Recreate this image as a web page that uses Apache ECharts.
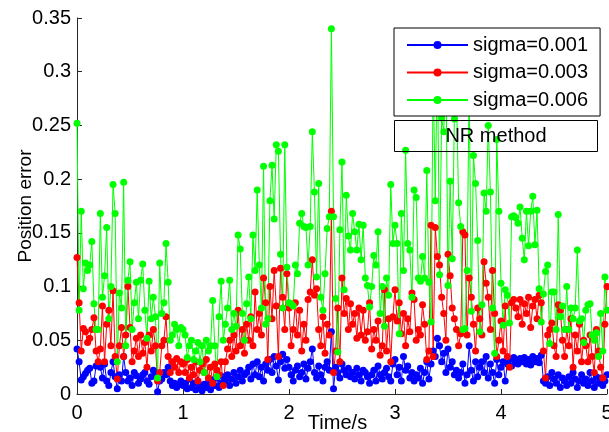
<!DOCTYPE html>
<html>
<head>
<meta charset="utf-8">
<script src="https://cdn.jsdelivr.net/npm/echarts@6/dist/echarts.min.js"></script>
<style>
html,body{margin:0;padding:0;background:#fff;}
#chart{width:609px;height:432px;}
</style>
</head>
<body>
<div id="chart"></div>
<script>
// time step 0.02 s, t = 0 ... 5
var timeStep = 0.02;
var seriesNames = ['sigma=0.001', 'sigma=0.003', 'sigma=0.006'];
var xTicks = [0, 1, 2, 3, 4, 5];
var yTicks = [0, 0.05, 0.1, 0.15, 0.2, 0.25, 0.3, 0.35];

var sigma001 = [
  0.042, 0.03, 0.013, 0.016, 0.019, 0.022, 0.024, 0.01, 0.012, 0.026,
  0.027, 0.025, 0.015, 0.028, 0.012, 0.008, 0.02, 0.03, 0.016, 0.005,
  0.018, 0.012, 0.035, 0.02, 0.012, 0.015, 0.008, 0.02, 0.017, 0.01,
  0.014, 0.018, 0.02, 0.012, 0.009, 0.016, 0.022, 0.018, 0.002, 0.012,
  0.014, 0.02, 0.018, 0.025, 0.012, 0.008, 0.01, 0.006, 0.009, 0.012,
  0.008, 0.01, 0.005, 0.014, 0.006, 0.01, 0.004, 0.012, 0.008, 0.003,
  0.009, 0.006, 0.011, 0.004, 0.013, 0.008, 0.015, 0.006, 0.01, 0.016,
  0.012, 0.018, 0.008, 0.014, 0.02, 0.01, 0.016, 0.022, 0.012, 0.018,
  0.02, 0.025, 0.014, 0.028, 0.018, 0.03, 0.016, 0.025, 0.012, 0.028,
  0.022, 0.032, 0.02, 0.035, 0.026, 0.013, 0.03, 0.037, 0.024, 0.032,
  0.025, 0.018, 0.012, 0.022, 0.026, 0.016, 0.02, 0.028, 0.014, 0.024,
  0.03, 0.042, 0.02, 0.015, 0.026, 0.018, 0.012, 0.025, 0.03, 0.022,
  0.058, 0.005, 0.025, 0.02, 0.015, 0.028, 0.022, 0.018, 0.024, 0.016,
  0.02, 0.014, 0.024, 0.018, 0.012, 0.022, 0.02, 0.016, 0.01, 0.018,
  0.022, 0.012, 0.026, 0.018, 0.014, 0.02, 0.024, 0.016, 0.012, 0.028,
  0.032, 0.018, 0.025, 0.012, 0.035, 0.022, 0.026, 0.015, 0.02, 0.012,
  0.018, 0.015, 0.024, 0.01, 0.02, 0.03, 0.014, 0.028, 0.04, 0.035,
  0.052, 0.045, 0.03, 0.038, 0.02, 0.042, 0.025, 0.03, 0.018, 0.022,
  0.015, 0.02, 0.028, 0.01, 0.018, 0.045, 0.022, 0.012, 0.03, 0.016,
  0.025, 0.03, 0.02, 0.035, 0.015, 0.028, 0.02, 0.01, 0.032, 0.018,
  0.025, 0.03, 0.012, 0.028, 0.032, 0.026, 0.034, 0.03, 0.028, 0.033,
  0.03, 0.034, 0.028, 0.032, 0.027, 0.035, 0.03, 0.033, 0.029, 0.036,
  0.012, 0.01, 0.016, 0.008, 0.02, 0.014, 0.01, 0.018, 0.006, 0.015,
  0.012, 0.008, 0.016, 0.01, 0.02, 0.014, 0.006, 0.012, 0.018, 0.01,
  0.014, 0.008, 0.02, 0.012, 0.006, 0.016, 0.01, 0.015, 0.008, 0.012, 0.018
];

var sigma003 = [
  0.127, 0.085, 0.04, 0.061, 0.058, 0.048, 0.052, 0.06, 0.071, 0.04,
  0.03, 0.042, 0.082, 0.03, 0.065, 0.078, 0.045, 0.096, 0.035, 0.014,
  0.045, 0.062, 0.035, 0.055, 0.1, 0.062, 0.03, 0.04, 0.052, 0.035,
  0.055, 0.038, 0.048, 0.025, 0.055, 0.04, 0.06, 0.045, 0.012, 0.02,
  0.045, 0.05, 0.072, 0.035, 0.02, 0.03, 0.025, 0.033, 0.02, 0.03,
  0.028, 0.02, 0.032, 0.015, 0.025, 0.018, 0.03, 0.012, 0.022, 0.028,
  0.02, 0.032, 0.015, 0.025, 0.01, 0.028, 0.022, 0.018, 0.03, 0.008,
  0.03, 0.042, 0.05, 0.035, 0.055, 0.04, 0.078, 0.045, 0.06, 0.038,
  0.065, 0.05, 0.072, 0.045, 0.095, 0.06, 0.075, 0.055, 0.108, 0.085,
  0.032, 0.1, 0.07, 0.115, 0.082, 0.035, 0.117, 0.09, 0.06, 0.112,
  0.08, 0.045, 0.06, 0.085, 0.055, 0.078, 0.04, 0.065, 0.05, 0.088,
  0.095, 0.125, 0.092, 0.098, 0.06, 0.045, 0.072, 0.038, 0.065, 0.055,
  0.17, 0.02, 0.04, 0.08, 0.03, 0.108, 0.075, 0.089, 0.06, 0.084,
  0.065, 0.075, 0.052, 0.08, 0.055, 0.078, 0.05, 0.058, 0.085, 0.042,
  0.06, 0.05, 0.068, 0.036, 0.045, 0.097, 0.04, 0.07, 0.03, 0.072,
  0.097, 0.068, 0.085, 0.056, 0.075, 0.045, 0.07, 0.058, 0.094, 0.088,
  0.05, 0.06, 0.055, 0.083, 0.065, 0.032, 0.04, 0.157, 0.035, 0.155,
  0.128, 0.12, 0.09, 0.075, 0.05, 0.13, 0.11, 0.08, 0.07, 0.06,
  0.045, 0.056, 0.151, 0.148, 0.055, 0.108, 0.09, 0.065, 0.04, 0.08,
  0.07, 0.055, 0.123, 0.103, 0.09, 0.06, 0.115, 0.075, 0.035, 0.05,
  0.068, 0.04, 0.082, 0.035, 0.025, 0.085, 0.088, 0.08, 0.072, 0.088,
  0.065, 0.084, 0.075, 0.09, 0.062, 0.082, 0.088, 0.07, 0.092, 0.085,
  0.04, 0.015, 0.055, 0.06, 0.066, 0.045, 0.035, 0.083, 0.078, 0.05,
  0.035, 0.06, 0.045, 0.07, 0.025, 0.055, 0.04, 0.065, 0.03, 0.05,
  0.045, 0.03, 0.055, 0.035, 0.02, 0.06, 0.04, 0.025, 0.015, 0.065, 0.1
];

var sigma006 = [
  0.252, 0.078, 0.17, 0.098, 0.122, 0.115, 0.12, 0.142, 0.084, 0.06,
  0.06, 0.168, 0.09, 0.11, 0.155, 0.07, 0.1, 0.195, 0.168, 0.03,
  0.094, 0.08, 0.197, 0.045, 0.106, 0.123, 0.06, 0.085, 0.104, 0.07,
  0.106, 0.121, 0.078, 0.052, 0.105, 0.07, 0.09, 0.072, 0.015, 0.122,
  0.075, 0.085, 0.14, 0.104, 0.05, 0.055, 0.065, 0.06, 0.045, 0.062,
  0.06, 0.055, 0.034, 0.045, 0.05, 0.032, 0.04, 0.048, 0.03, 0.045,
  0.02, 0.05, 0.04, 0.045, 0.087, 0.045, 0.016, 0.072, 0.105, 0.05,
  0.065, 0.08, 0.106, 0.06, 0.075, 0.063, 0.148, 0.135, 0.075, 0.05,
  0.084, 0.109, 0.07, 0.148, 0.115, 0.19, 0.12, 0.08, 0.212, 0.065,
  0.07, 0.18, 0.213, 0.163, 0.232, 0.226, 0.13, 0.08, 0.232, 0.118,
  0.085, 0.084, 0.082, 0.12, 0.112, 0.159, 0.168, 0.156, 0.155, 0.12,
  0.156, 0.244, 0.188, 0.109, 0.196, 0.09, 0.078, 0.112, 0.154, 0.165,
  0.34, 0.165, 0.089, 0.039, 0.153, 0.216, 0.097, 0.185, 0.147, 0.134,
  0.168, 0.151, 0.134, 0.158, 0.125, 0.157, 0.108, 0.101, 0.081, 0.1,
  0.129, 0.12, 0.151, 0.075, 0.1, 0.063, 0.108, 0.092, 0.195, 0.14,
  0.157, 0.14, 0.056, 0.168, 0.115, 0.227, 0.14, 0.134, 0.09, 0.19,
  0.183, 0.108, 0.105, 0.128, 0.108, 0.208, 0.104, 0.067, 0.3, 0.18,
  0.32, 0.111, 0.257, 0.244, 0.31, 0.101, 0.198, 0.126, 0.256, 0.28,
  0.178, 0.156, 0.06, 0.061, 0.115, 0.29, 0.077, 0.222, 0.196, 0.143,
  0.058, 0.083, 0.187, 0.17, 0.25, 0.188, 0.08, 0.038, 0.237, 0.17,
  0.103, 0.064, 0.097, 0.092, 0.066, 0.165, 0.166, 0.164, 0.159, 0.174,
  0.145, 0.125, 0.17, 0.138, 0.17, 0.184, 0.139, 0.171, 0.098, 0.067,
  0.093, 0.114, 0.12, 0.047, 0.095, 0.095, 0.06, 0.167, 0.072, 0.082,
  0.06, 0.1, 0.06, 0.08, 0.07, 0.08, 0.134, 0.068, 0.07, 0.048,
  0.078, 0.083, 0.084, 0.055, 0.05, 0.057, 0.035, 0.075, 0.04, 0.109, 0.078
];

var seriesValues = [sigma001, sigma003, sigma006];
var seriesColors = ['#0000ff', '#ff0000', '#00ff00'];

function toPairs(vals) {
  return vals.map(function (v, i) { return [+(i * timeStep).toFixed(2), v]; });
}

var FONT = 'Liberation Sans, Arial, Helvetica, sans-serif';
var FS = 20;
var chart = echarts.init(document.getElementById('chart'), null, {renderer: 'canvas'});

var option = {
  animation: false,
  backgroundColor: '#ffffff',
  textStyle: {fontFamily: FONT},
  grid: {left: 77, right: 2, top: 18, bottom: 38, containLabel: false, outerBoundsMode: 'none'},
  legend: {
    data: seriesNames,
    orient: 'vertical',
    left: 394,
    top: 28,
    width: 205,
    padding: [7, 12, 6, 12],
    itemWidth: 61,
    itemHeight: 10,
    itemGap: 7.5,
    backgroundColor: '#ffffff',
    borderColor: '#000000',
    borderWidth: 1,
    borderRadius: 0,
    selectedMode: false,
    textStyle: {fontFamily: FONT, fontSize: FS, color: '#000', lineHeight: 20}
  },
  xAxis: {
    type: 'value',
    min: xTicks[0],
    max: xTicks[xTicks.length - 1],
    interval: 1,
    name: 'Time/s',
    nameLocation: 'middle',
    nameGap: 19,
    nameMoveOverlap: false,
    nameTextStyle: {fontFamily: FONT, fontSize: FS, color: '#000', padding: [0, 9, 0, 0]},
    axisLine: {lineStyle: {color: '#262626', width: 1}},
    axisTick: {inside: true, length: 5, lineStyle: {color: '#262626'}},
    axisLabel: {fontFamily: FONT, fontSize: FS, color: '#000', margin: 9, showMaxLabel: true, showMinLabel: true, hideOverlap: false},
    splitLine: {show: false}
  },
  yAxis: {
    type: 'value',
    min: yTicks[0],
    max: yTicks[yTicks.length - 1],
    interval: 0.05,
    name: 'Position error',
    nameLocation: 'middle',
    nameGap: 42,
    nameMoveOverlap: false,
    nameTextStyle: {fontFamily: FONT, fontSize: 19, color: '#000'},
    axisLine: {show: true, lineStyle: {color: '#262626', width: 1}},
    axisTick: {show: true, inside: true, length: 5, lineStyle: {color: '#262626'}},
    axisLabel: {
      fontFamily: FONT, fontSize: FS, color: '#000', margin: 6,
      formatter: function (v) { return String(+v.toFixed(2)); }
    },
    splitLine: {show: false}
  },
  graphic: [
    {
      type: 'rect',
      left: 394, top: 120,
      shape: {width: 203, height: 31},
      style: {fill: 'rgba(0,0,0,0)', stroke: '#000', lineWidth: 1},
      z: 100
    },
    {
      type: 'text',
      x: 496, y: 136,
      style: {text: 'NR method', fill: '#000', font: FS + 'px ' + FONT, textAlign: 'center', textVerticalAlign: 'middle'},
      z: 101
    }
  ],
  series: seriesValues.map(function (vals, k) {
    return {
      name: seriesNames[k],
      type: 'line',
      data: toPairs(vals),
      symbol: 'circle',
      symbolSize: 7,
      showSymbol: true,
      showAllSymbol: true,
      color: seriesColors[k],
      lineStyle: {width: 1, color: seriesColors[k]},
      itemStyle: {color: seriesColors[k]},
      emphasis: {disabled: true},
      clip: true
    };
  })
};
chart.setOption(option);
</script>
</body>
</html>
